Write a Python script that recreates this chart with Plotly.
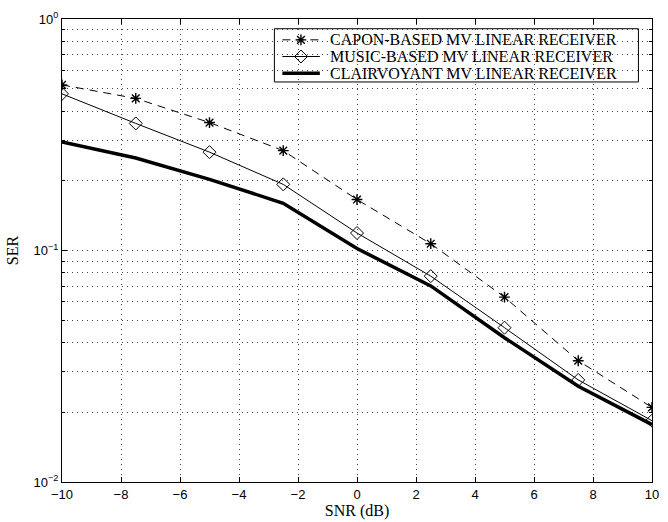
import plotly.graph_objects as go

# SNR sweep (dB) and symbol error rates of the three receivers
snr_db = [-10, -7.5, -5, -2.5, 0, 2.5, 5, 7.5, 10]
ser_capon = [0.519, 0.454, 0.357, 0.270, 0.166, 0.107, 0.0629, 0.0334, 0.0210]
ser_music = [0.475, 0.354, 0.266, 0.193, 0.119, 0.0775, 0.0464, 0.0276, 0.0184]
ser_clairvoyant = [0.294, 0.251, 0.203, 0.160, 0.102, 0.0703, 0.0420, 0.0259, 0.0177]

series_names = [
    "CAPON-BASED MV LINEAR RECEIVER",
    "MUSIC-BASED MV LINEAR RECEIVER",
    "CLAIRVOYANT MV LINEAR RECEIVER",
]

x_ticks = [-10, -8, -6, -4, -2, 0, 2, 4, 6, 8, 10]
y_ticks = [0.01, 0.1, 1]
y_tick_text = ["10<sup>−2</sup>", "10<sup>−1</sup>", "10<sup>0</sup>"]
y_minor = [m * 10 ** e for e in (-2, -1) for m in range(2, 10)]

serif = "Liberation Serif, Times New Roman, serif"
sans = "Liberation Sans, Arial, sans-serif"

# trace styles shared by the plot and the legend key
styles = [
    dict(line=dict(color="black", width=1, dash="8px,6px"),
         marker=dict(symbol="asterisk-open", size=9, color="black",
                     line=dict(color="black", width=1.4))),
    dict(line=dict(color="black", width=1),
         marker=dict(symbol="diamond-open", size=10, color="black",
                     line=dict(color="black", width=1))),
    dict(line=dict(color="black", width=3.5), marker=None),
]

fig = go.Figure()
for ys, name, st in zip([ser_capon, ser_music, ser_clairvoyant], series_names, styles):
    fig.add_trace(go.Scatter(
        x=snr_db, y=ys, name=name,
        mode="lines+markers" if st["marker"] else "lines",
        line=st["line"], marker=st["marker"], showlegend=False,
    ))

# legend key drawn in a unit overlay frame
box_x0, box_x1, box_y0, box_y1 = 0.360, 0.977, 0.864, 0.979
rows = [0.955, 0.919, 0.883]
sample_x0, sample_x1, sample_mid, text_x = 0.3735, 0.437, 0.405, 0.450

fig.add_shape(type="rect", xref="paper", yref="paper",
              x0=box_x0, x1=box_x1, y0=box_y0, y1=box_y1,
              fillcolor="white", line=dict(color="black", width=1), layer="between")

for name, st, ry in zip(series_names, styles, rows):
    fig.add_trace(go.Scatter(
        x=[sample_x0, sample_x1], y=[ry, ry], mode="lines",
        line=st["line"], xaxis="x2", yaxis="y2",
        showlegend=False, hoverinfo="skip",
    ))
    if st["marker"]:
        fig.add_trace(go.Scatter(
            x=[sample_mid], y=[ry], mode="markers",
            marker=st["marker"], xaxis="x2", yaxis="y2",
            showlegend=False, hoverinfo="skip",
        ))
    fig.add_annotation(
        x=text_x, y=ry, xref="paper", yref="paper", text=name, showarrow=False,
        xanchor="left", yanchor="middle",
        font=dict(family=serif, size=16, color="black"),
    )

grid = dict(showgrid=True, gridcolor="#444", griddash="1px,4px", gridwidth=1)

fig.update_layout(
    width=668, height=522,
    margin=dict(l=62, r=9, t=19, b=33),
    paper_bgcolor="white", plot_bgcolor="white",
    showlegend=False,
    xaxis=dict(
        range=[-10, 10], tickvals=x_ticks,
        ticktext=[str(v).replace("-", "−") for v in x_ticks],
        ticks="inside", ticklen=5, tickcolor="black",
        showline=True, linecolor="black", linewidth=1, mirror="ticks",
        zeroline=False, **grid,
        tickfont=dict(family=sans, size=13, color="black"),
        title=dict(text="SNR (dB)", font=dict(family=serif, size=16, color="black"),
                   standoff=0),
    ),
    yaxis=dict(
        type="log", range=[-2, 0], tickvals=y_ticks, ticktext=y_tick_text,
        ticks="inside", ticklen=5, tickcolor="black",
        showline=True, linecolor="black", linewidth=1, mirror="ticks",
        zeroline=False, **grid,
        tickfont=dict(family=sans, size=13, color="black"),
        title=dict(text="SER", font=dict(family=serif, size=16, color="black"),
                   standoff=10),
        minor=dict(tickvals=y_minor, ticks="inside", ticklen=3, tickcolor="black",
                   **grid),
    ),
    xaxis2=dict(overlaying="x", range=[0, 1], visible=False, fixedrange=True),
    yaxis2=dict(overlaying="y", range=[0, 1], visible=False, fixedrange=True),
)

fig.write_html("out.html")
